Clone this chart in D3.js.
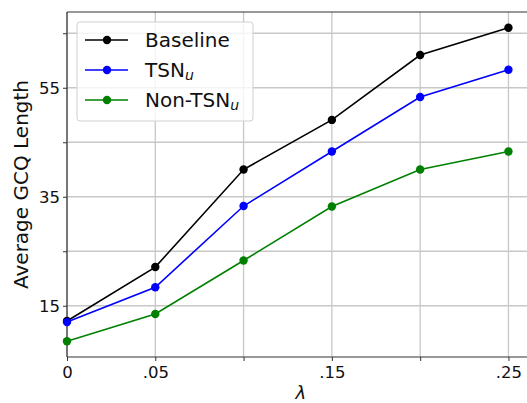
<!DOCTYPE html>
<html>
<head>
<meta charset="utf-8">
<script src="https://cdn.jsdelivr.net/npm/d3@7"></script>
<style>
  body { margin: 0; background: #fff; }
  text { font-family: "DejaVu Sans", sans-serif; }
</style>
</head>
<body>
<div id="chart"></div>
<script>
// data
var lambdas = [0, 0.05, 0.1, 0.15, 0.2, 0.25];
var baseline = [12.2, 22.1, 40.0, 49.1, 61.0, 66.0];
var tsn = [12.0, 18.4, 33.3, 43.3, 53.3, 58.3];
var nonTsn = [8.5, 13.5, 23.3, 33.2, 40.0, 43.3];
var xMajor = [0, 0.05, 0.15, 0.25];
var xLabels = ["0", ".05", ".15", ".25"];
var xMinor = [0.1, 0.2];
var yMajor = [15, 35, 55];
var yMinor = [25, 45, 65];

var W = 527, H = 403;
var margin = {top: 12, left: 67, right: -6, bottom: 46},
    width = W - margin.left - margin.right,
    height = H - margin.top - margin.bottom;

var svg = d3.select("#chart").append("svg")
    .attr("width", W).attr("height", H)
    .style("overflow", "hidden");

var g = svg.append("g").attr("transform", "translate(" + margin.left + "," + margin.top + ")");

var x = d3.scaleLinear().domain([0, 0.2639]).range([0, width]);
var y = d3.scaleLinear().domain([5.6, 68.9]).range([height, 0]);

// grid
var gridColor = "#c8c8c8";
g.selectAll(".vgrid").data(xMajor.concat(xMinor)).enter()
  .append("line")
  .attr("x1", d => x(d)).attr("x2", d => x(d))
  .attr("y1", 0).attr("y2", height)
  .attr("stroke", gridColor).attr("stroke-width", 1.3);

g.selectAll(".hgrid").data(yMajor.concat(yMinor)).enter()
  .append("line")
  .attr("x1", 0).attr("x2", width)
  .attr("y1", d => y(d)).attr("y2", d => y(d))
  .attr("stroke", gridColor).attr("stroke-width", 1.3);

// spines
g.append("line").attr("x1", 0).attr("x2", 0).attr("y1", 0).attr("y2", height)
  .attr("stroke", "#333").attr("stroke-width", 1.2);
g.append("line").attr("x1", 0).attr("x2", width).attr("y1", height).attr("y2", height)
  .attr("stroke", "#333").attr("stroke-width", 1.2);
g.append("line").attr("x1", 0).attr("x2", width).attr("y1", 0).attr("y2", 0)
  .attr("stroke", "#333").attr("stroke-width", 1.2);

// axes
var xAxis = g.append("g")
  .attr("transform", "translate(0," + height + ")")
  .call(d3.axisBottom(x).tickValues(xMajor.concat(xMinor)).tickSize(4)
    .tickFormat(d => { var i = xMajor.indexOf(d); return i < 0 ? "" : xLabels[i]; }));
var yAxis = g.append("g")
  .call(d3.axisLeft(y).tickValues(yMajor.concat(yMinor)).tickSize(4)
    .tickFormat(d => yMajor.indexOf(d) < 0 ? "" : d));
[xAxis, yAxis].forEach(function(a) {
  a.select(".domain").remove();
  a.selectAll(".tick line").attr("stroke", "#333");
  a.selectAll("text").attr("font-size", 16.5).attr("fill", "#111")
    .style("font-family", "DejaVu Sans");
});
xAxis.selectAll("text").attr("dy", "0.71em").attr("y", 9);
yAxis.selectAll("text").attr("x", -7);

// axis titles
svg.append("text")
  .attr("x", margin.left + x(0.1324)).attr("y", 399)
  .attr("text-anchor", "middle").attr("font-size", 18)
  .attr("font-style", "italic").attr("fill", "#111")
  .text("λ");
svg.append("text")
  .attr("transform", "translate(28," + (margin.top + height / 2) + ") rotate(-90)")
  .attr("text-anchor", "middle").attr("font-size", 20).attr("fill", "#111")
  .text("Average GCQ Length");

// series
var series = [
  {name: "Baseline", values: baseline, color: "black"},
  {name: "TSN", sub: "u", values: tsn, color: "blue"},
  {name: "Non-TSN", sub: "u", values: nonTsn, color: "green"}
];

var line = d3.line()
  .x((d, i) => x(lambdas[i]))
  .y(d => y(d));

series.forEach(function(s) {
  g.append("path").datum(s.values)
    .attr("fill", "none").attr("stroke", s.color).attr("stroke-width", 1.6)
    .attr("d", line);
  g.selectAll(null).data(s.values).enter()
    .append("circle")
    .attr("cx", (d, i) => x(lambdas[i])).attr("cy", d => y(d))
    .attr("r", 4.2).attr("fill", s.color);
});

// legend
var leg = svg.append("g").attr("transform", "translate(77,22)");
leg.append("rect").attr("width", 176).attr("height", 99).attr("rx", 3)
  .attr("fill", "white").attr("fill-opacity", 0.8)
  .attr("stroke", "#d0d0d0").attr("stroke-width", 1);
series.forEach(function(s, i) {
  var yy = 18 + i * 30;
  leg.append("line").attr("x1", 8).attr("x2", 51).attr("y1", yy).attr("y2", yy)
    .attr("stroke", s.color).attr("stroke-width", 1.6);
  leg.append("circle").attr("cx", 30).attr("cy", yy).attr("r", 4.2).attr("fill", s.color);
  var t = leg.append("text").attr("x", 68).attr("y", yy + 7)
    .attr("font-size", 20).attr("fill", "#111").text(s.name);
  if (s.sub) {
    t.append("tspan").attr("font-size", 14).attr("font-style", "italic")
      .attr("dy", 3).text(s.sub);
  }
});
</script>
</body>
</html>
